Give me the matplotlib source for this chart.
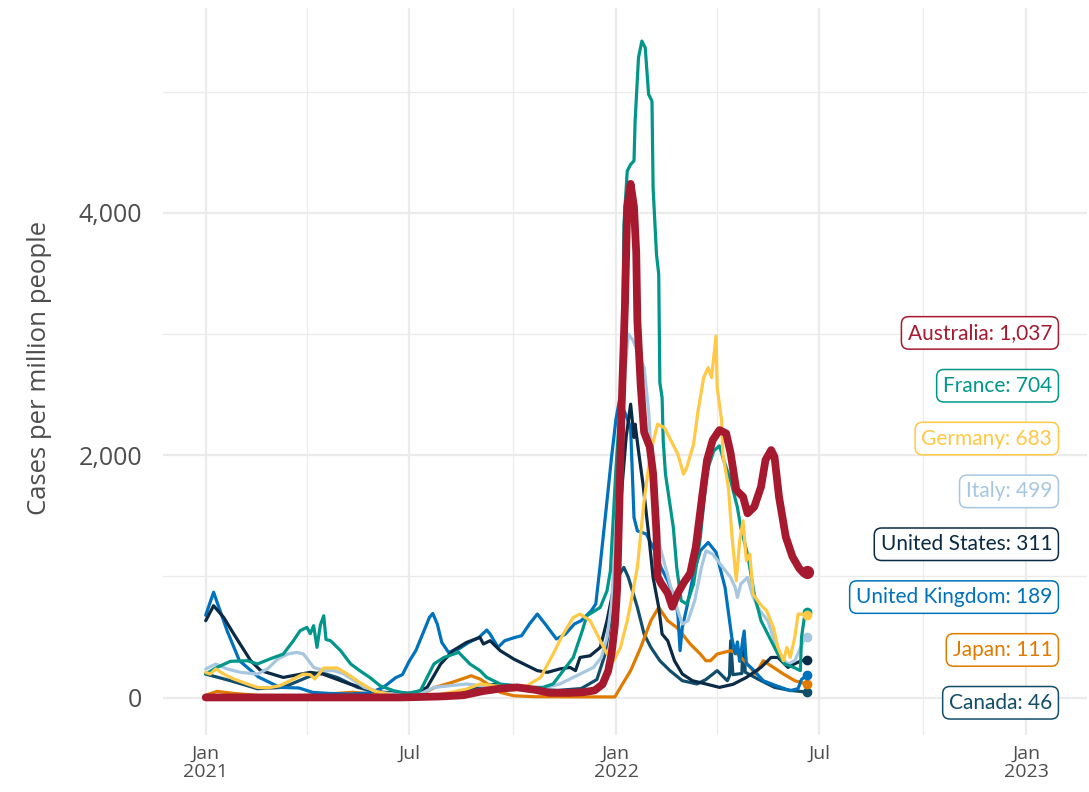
import matplotlib
matplotlib.use("Agg")
import matplotlib.pyplot as plt
import matplotlib.dates as mdates
import pandas as pd

# ---------------- data ----------------
countries = ["Australia", "France", "Germany", "Italy", "United States",
             "United Kingdom", "Japan", "Canada"]
latest = [1037, 704, 683, 499, 311, 189, 111, 46]
colors = ["#A6192E", "#00968A", "#FFC845", "#A7C7E0", "#0B2A45",
          "#0071BC", "#E07B00", "#124E6B"]

au_dates = ["2021-01-01", "2021-06-24", "2021-07-29", "2021-08-18", "2021-09-05", "2021-09-20",
            "2021-10-05", "2021-10-21", "2021-11-03", "2021-11-21", "2021-12-03", "2021-12-13",
            "2021-12-20", "2021-12-25", "2021-12-28", "2021-12-31", "2022-01-02", "2022-01-04",
            "2022-01-06", "2022-01-09", "2022-01-11", "2022-01-14", "2022-01-17", "2022-01-19",
            "2022-01-20", "2022-01-23", "2022-01-26", "2022-01-31", "2022-02-03", "2022-02-06",
            "2022-02-07", "2022-02-10", "2022-02-16", "2022-02-20", "2022-02-25", "2022-03-02",
            "2022-03-08", "2022-03-13", "2022-03-19", "2022-03-23", "2022-03-28", "2022-04-03",
            "2022-04-09", "2022-04-13", "2022-04-18", "2022-04-24", "2022-04-28", "2022-05-04",
            "2022-05-10", "2022-05-14", "2022-05-19", "2022-05-22", "2022-05-26", "2022-06-01",
            "2022-06-07", "2022-06-13", "2022-06-17", "2022-06-20"]
au_vals = [2, 2, 10, 20, 55, 75,
           85, 65, 40, 40, 45, 60,
           110, 220, 360, 600, 900, 1600,
           2400, 3250, 4050, 4240, 4050, 3670,
           3110, 2570, 2190, 2070, 1850, 1360,
           1000, 945, 862, 750, 862, 945,
           1026, 1245, 1686, 1961, 2125, 2208,
           2181, 2016, 1713, 1658, 1521, 1575,
           1740, 1961, 2043, 1988, 1658, 1328,
           1163, 1067, 1026, 1037]

fr_dates = ["2021-01-01", "2021-01-11", "2021-01-23", "2021-02-07", "2021-02-16", "2021-02-27",
            "2021-03-11", "2021-03-20", "2021-03-26", "2021-04-01", "2021-04-04", "2021-04-07",
            "2021-04-10", "2021-04-13", "2021-04-16", "2021-04-18", "2021-04-22", "2021-05-01",
            "2021-05-10", "2021-05-18", "2021-05-27", "2021-06-05", "2021-06-17", "2021-06-29",
            "2021-07-11", "2021-07-23", "2021-08-01", "2021-08-14", "2021-08-24", "2021-09-02",
            "2021-09-08", "2021-09-20", "2021-10-02", "2021-10-14", "2021-10-28", "2021-11-06",
            "2021-11-24", "2021-12-02", "2021-12-06", "2021-12-18", "2021-12-24", "2021-12-27",
            "2022-01-01", "2022-01-05", "2022-01-07", "2022-01-08", "2022-01-11", "2022-01-14",
            "2022-01-17", "2022-01-18", "2022-01-21", "2022-01-24", "2022-01-27", "2022-01-30",
            "2022-02-02", "2022-02-03", "2022-02-06", "2022-02-08", "2022-02-09", "2022-02-11",
            "2022-02-12", "2022-02-14", "2022-02-21", "2022-02-24", "2022-02-28", "2022-03-05",
            "2022-03-11", "2022-03-17", "2022-03-23", "2022-03-29", "2022-04-03", "2022-04-07",
            "2022-04-13", "2022-04-19", "2022-04-22", "2022-04-28", "2022-05-04", "2022-05-10",
            "2022-05-19", "2022-05-25", "2022-05-31", "2022-06-08", "2022-06-14", "2022-06-15",
            "2022-06-18", "2022-06-20"]
fr_vals = [195, 250, 300, 305, 278, 319,
           360, 470, 553, 580, 528, 594,
           415, 600, 676, 480, 470, 388,
           278, 223, 167, 99, 58, 35,
           58, 278, 332, 374, 278, 223,
           167, 113, 99, 85, 85, 113,
           332, 553, 676, 745, 882, 1047,
           1900, 2450, 3000, 3900, 4346, 4400,
           4430, 4758, 5281, 5418, 5363, 4979,
           4923, 4208, 3659, 3494, 2600, 2476,
           2120, 1845, 1404, 1075, 800, 773,
           938, 1322, 1872, 2037, 2078, 1955,
           1790, 1570, 1404, 1185, 855, 635,
           470, 360, 278, 250, 223, 497,
           690, 704]

de_dates = ["2021-01-01", "2021-01-05", "2021-01-10", "2021-01-17", "2021-01-26", "2021-02-07",
            "2021-02-16", "2021-02-25", "2021-03-08", "2021-03-20", "2021-03-29", "2021-04-04",
            "2021-04-08", "2021-04-16", "2021-04-28", "2021-05-07", "2021-05-18", "2021-05-30",
            "2021-06-17", "2021-06-29", "2021-07-23", "2021-08-21", "2021-09-02", "2021-09-14",
            "2021-09-29", "2021-10-14", "2021-10-26", "2021-11-06", "2021-11-15", "2021-11-24",
            "2021-11-30", "2021-12-09", "2021-12-18", "2021-12-24", "2021-12-30", "2022-01-03",
            "2022-01-05", "2022-01-11", "2022-01-14", "2022-01-20", "2022-01-26", "2022-02-01",
            "2022-02-07", "2022-02-13", "2022-02-19", "2022-02-25", "2022-03-02", "2022-03-05",
            "2022-03-11", "2022-03-15", "2022-03-20", "2022-03-24", "2022-03-27", "2022-03-31",
            "2022-04-01", "2022-04-05", "2022-04-06", "2022-04-11", "2022-04-14", "2022-04-18",
            "2022-04-21", "2022-04-24", "2022-04-27", "2022-04-30", "2022-05-03", "2022-05-09",
            "2022-05-15", "2022-05-21", "2022-05-25", "2022-05-30", "2022-06-02", "2022-06-05",
            "2022-06-09", "2022-06-12", "2022-06-15", "2022-06-20"]
de_vals = [209, 195, 237, 195, 154, 113,
           85, 80, 99, 154, 195, 190,
           154, 245, 245, 195, 126, 58,
           16, 8, 16, 71, 113, 99,
           85, 99, 168, 360, 525, 662,
           690, 635, 470, 360, 305, 380,
           415, 635, 773, 1075, 1625, 2037,
           2257, 2229, 2120, 2010, 1845, 1900,
           2092, 2367, 2642, 2724, 2642, 2985,
           2559, 2284, 2010, 1734, 1350, 965,
           1295, 1460, 1130, 1185, 855, 773,
           717, 580, 415, 305, 415, 332,
           497, 690, 690, 683]

it_dates = ["2021-01-01", "2021-01-10", "2021-01-20", "2021-02-01", "2021-02-16", "2021-02-25",
            "2021-03-06", "2021-03-15", "2021-03-23", "2021-03-29", "2021-04-07", "2021-04-16",
            "2021-04-25", "2021-05-04", "2021-05-13", "2021-05-22", "2021-06-05", "2021-06-23",
            "2021-07-11", "2021-07-23", "2021-08-21", "2021-09-20", "2021-10-20", "2021-11-12",
            "2021-11-30", "2021-12-12", "2021-12-19", "2021-12-24", "2021-12-28", "2022-01-01",
            "2022-01-05", "2022-01-09", "2022-01-12", "2022-01-16", "2022-01-26", "2022-01-30",
            "2022-02-02", "2022-02-06", "2022-02-09", "2022-02-18", "2022-02-24", "2022-03-01",
            "2022-03-06", "2022-03-12", "2022-03-18", "2022-03-22", "2022-03-28", "2022-04-06",
            "2022-04-13", "2022-04-17", "2022-04-19", "2022-04-22", "2022-04-28", "2022-05-02",
            "2022-05-07", "2022-05-16", "2022-05-22", "2022-05-28", "2022-06-03", "2022-06-09",
            "2022-06-13", "2022-06-18", "2022-06-20"]
it_vals = [237, 278, 237, 209, 195, 237,
           319, 360, 374, 360, 250, 223,
           223, 195, 140, 85, 44, 25,
           30, 85, 113, 80, 60, 113,
           195, 250, 332, 497, 773, 1400,
           2000, 2700, 3000, 2950, 2724, 2367,
           1900, 1487, 1250, 938, 745, 608,
           635, 800, 1075, 1212, 1185, 1075,
           992, 910, 827, 938, 992, 855,
           745, 635, 470, 332, 278, 305,
           388, 497, 499]

us_dates = ["2021-01-01", "2021-01-08", "2021-01-17", "2021-01-26", "2021-02-10", "2021-02-19",
            "2021-03-11", "2021-04-04", "2021-04-15", "2021-05-09", "2021-05-24", "2021-06-08",
            "2021-06-23", "2021-07-05", "2021-07-17", "2021-07-29", "2021-08-09", "2021-08-21",
            "2021-09-02", "2021-09-05", "2021-09-11", "2021-09-20", "2021-10-02", "2021-10-14",
            "2021-10-23", "2021-11-01", "2021-11-12", "2021-11-21", "2021-11-26", "2021-11-30",
            "2021-12-09", "2021-12-18", "2021-12-24", "2021-12-30", "2022-01-02", "2022-01-06",
            "2022-01-10", "2022-01-14", "2022-01-17", "2022-01-18", "2022-01-21", "2022-01-25",
            "2022-01-30", "2022-02-03", "2022-02-08", "2022-02-11", "2022-02-16", "2022-02-22",
            "2022-03-01", "2022-03-10", "2022-03-22", "2022-04-03", "2022-04-15", "2022-04-27",
            "2022-05-10", "2022-05-19", "2022-05-25", "2022-06-03", "2022-06-09", "2022-06-15",
            "2022-06-20"]
us_vals = [635, 759, 662, 525, 305, 223,
           167, 209, 195, 113, 71, 44,
           40, 35, 85, 278, 388, 456,
           497, 443, 470, 388, 319, 264,
           223, 209, 237, 250, 223, 332,
           346, 415, 635, 910, 1250, 1700,
           2150, 2422, 2147, 2257, 2037, 1762,
           1350, 992, 745, 525, 470, 305,
           195, 140, 113, 85, 110, 167,
           250, 332, 332, 250, 280, 305,
           311]

uk_dates = ["2021-01-01", "2021-01-08", "2021-01-20", "2021-01-31", "2021-02-17", "2021-03-08",
            "2021-03-25", "2021-04-06", "2021-04-21", "2021-05-09", "2021-05-27", "2021-06-08",
            "2021-06-19", "2021-06-25", "2021-07-01", "2021-07-07", "2021-07-13", "2021-07-19",
            "2021-07-22", "2021-07-26", "2021-07-30", "2021-08-05", "2021-08-14", "2021-08-23",
            "2021-09-01", "2021-09-08", "2021-09-11", "2021-09-18", "2021-09-24", "2021-10-03",
            "2021-10-09", "2021-10-16", "2021-10-23", "2021-10-30", "2021-11-09", "2021-11-17",
            "2021-11-25", "2021-12-01", "2021-12-10", "2021-12-14", "2021-12-18", "2021-12-24",
            "2021-12-28", "2022-01-01", "2022-01-04", "2022-01-09", "2022-01-14", "2022-01-17",
            "2022-01-20", "2022-01-28", "2022-02-06", "2022-02-10", "2022-02-16", "2022-02-22",
            "2022-02-25", "2022-02-27", "2022-03-01", "2022-03-05", "2022-03-11", "2022-03-17",
            "2022-03-24", "2022-03-31", "2022-04-08", "2022-04-14", "2022-04-17", "2022-04-19",
            "2022-04-21", "2022-04-25", "2022-04-27", "2022-05-01", "2022-05-12", "2022-05-23",
            "2022-06-05", "2022-06-12", "2022-06-15", "2022-06-20"]
uk_vals = [680, 870, 553, 305, 170, 85,
           80, 44, 35, 30, 40, 85,
           165, 190, 300, 390, 525, 662,
           695, 608, 456, 374, 401, 456,
           497, 558, 525, 415, 470, 497,
           511, 608, 690, 608, 484, 525,
           608, 635, 717, 773, 1100, 1625,
           1982, 2300, 2450, 2350, 2229, 1487,
           1377, 1350, 1185, 1075, 965, 827,
           690, 388, 580, 745, 1020, 1212,
           1281, 1200, 910, 497, 362, 460,
           300, 550, 280, 250, 140, 100,
           58, 75, 150, 189]

jp_dates = ["2021-01-01", "2021-01-11", "2021-01-26", "2021-02-20", "2021-03-20", "2021-04-20",
            "2021-05-12", "2021-06-01", "2021-06-25", "2021-07-10", "2021-07-24", "2021-08-08",
            "2021-08-21", "2021-08-25", "2021-09-02", "2021-09-11", "2021-09-20", "2021-10-02",
            "2021-10-20", "2021-12-31", "2022-01-05", "2022-01-14", "2022-01-23", "2022-02-01",
            "2022-02-08", "2022-02-16", "2022-02-24", "2022-03-01", "2022-03-08", "2022-03-17",
            "2022-03-22", "2022-03-26", "2022-04-01", "2022-04-13", "2022-04-19", "2022-04-28",
            "2022-05-05", "2022-05-12", "2022-05-21", "2022-05-30", "2022-06-09", "2022-06-20"]
jp_vals = [20, 52, 35, 16, 12, 30,
           45, 25, 12, 20, 85, 126,
           167, 181, 154, 99, 44, 16,
           8, 6, 85, 223, 415, 635,
           745, 635, 580, 525, 443, 360,
           305, 305, 360, 388, 360, 278,
           195, 305, 250, 195, 140, 111]

ca_dates = ["2021-01-01", "2021-01-23", "2021-02-16", "2021-03-11", "2021-04-01", "2021-04-13",
            "2021-04-28", "2021-05-16", "2021-06-08", "2021-07-01", "2021-07-20", "2021-08-10",
            "2021-09-01", "2021-09-15", "2021-10-01", "2021-10-20", "2021-11-10", "2021-12-01",
            "2021-12-15", "2021-12-22", "2021-12-28", "2022-01-03", "2022-01-08", "2022-01-12",
            "2022-01-20", "2022-01-26", "2022-02-01", "2022-02-09", "2022-02-18", "2022-03-01",
            "2022-03-14", "2022-03-22", "2022-04-01", "2022-04-10", "2022-04-12", "2022-04-13",
            "2022-04-15", "2022-04-23", "2022-04-24", "2022-04-26", "2022-05-08", "2022-05-22",
            "2022-06-05", "2022-06-20"]
ca_vals = [195, 140, 74, 85, 167, 209,
           167, 85, 33, 10, 12, 40,
           90, 110, 100, 70, 60, 75,
           150, 350, 700, 1000, 1075, 992,
           745, 525, 415, 305, 223, 140,
           113, 150, 223, 140, 180, 470,
           190, 200, 490, 210, 150, 85,
           60, 46]

series_dates = [au_dates, fr_dates, de_dates, it_dates, us_dates, uk_dates, jp_dates, ca_dates]
series_vals = [au_vals, fr_vals, de_vals, it_vals, us_vals, uk_vals, jp_vals, ca_vals]

# ---------------- figure ----------------
plt.rcParams["font.family"] = ["Open Sans", "DejaVu Sans"]
fig = plt.figure(figsize=(10.89, 7.92), dpi=100)
ax = fig.add_axes([163 / 1089, 1 - 735 / 792, (1087 - 163) / 1089, (735 - 8) / 792])

grid_c = "#EBEBEB"
ax.set_xlim(pd.Timestamp("2020-11-24"), pd.Timestamp("2023-02-24"))
ax.set_ylim(-308, 5691)

ax.yaxis.set_major_locator(matplotlib.ticker.FixedLocator([0, 2000, 4000]))
ax.yaxis.set_minor_locator(matplotlib.ticker.FixedLocator([1000, 3000, 5000]))
ax.yaxis.set_major_formatter(matplotlib.ticker.FuncFormatter(lambda v, p: f"{int(v):,}"))
ax.xaxis.set_major_locator(mdates.MonthLocator(bymonth=[1, 7]))
ax.xaxis.set_minor_locator(mdates.MonthLocator(bymonth=[4, 10]))


def xfmt(v, p):
    d = mdates.num2date(v)
    return d.strftime("%b\n%Y") if d.month == 1 else d.strftime("%b")


ax.xaxis.set_major_formatter(matplotlib.ticker.FuncFormatter(xfmt))
ax.grid(which="major", color=grid_c, linewidth=1.6)
ax.grid(which="minor", color=grid_c, linewidth=0.9)
ax.set_axisbelow(True)
for s in ax.spines.values():
    s.set_visible(False)
ax.tick_params(which="both", length=0)
ax.tick_params(axis="y", labelsize=18, labelcolor="#4D4D4D", pad=15)
ax.tick_params(axis="x", labelsize=14, labelcolor="#4D4D4D", pad=7)
for t in ax.get_xticklabels():
    t.set_linespacing(1.0)
ax.set_ylabel("Cases per million people", fontsize=18.5, color="#4D4D4D")
ax.yaxis.set_label_coords((52 - 163) / 924, 0.505)

draw_order = ["Canada", "Japan", "United Kingdom", "United States", "Italy", "France",
              "Germany", "Australia"]
for name in draw_order:
    i = countries.index(name)
    d = pd.to_datetime(series_dates[i])
    v = series_vals[i]
    lw = 5.6 if name == "Australia" else 2.3
    ax.plot(d, v, color=colors[i], lw=lw, solid_joinstyle="round", solid_capstyle="round",
            zorder=3 + draw_order.index(name))
    ax.plot(d[-1:], v[-1:], "o", color=colors[i], ms=6 if name != "Australia" else 8.5,
            zorder=3 + draw_order.index(name))

# ---------------- labels ----------------
label_x = pd.Timestamp("2023-01-24")
label_top = 3010
label_step = 436
for i, name in enumerate(countries):
    ax.annotate(f"{name}: {latest[i]:,}", xy=(label_x, label_top - i * label_step),
                ha="right", va="center", fontsize=15, color=colors[i],
                family=["Lato", "DejaVu Sans"], zorder=20,
                bbox=dict(boxstyle="round,pad=0.3,rounding_size=0.35", fc="white",
                          ec=colors[i], lw=1.1))

fig.savefig("out.png", dpi=100)
